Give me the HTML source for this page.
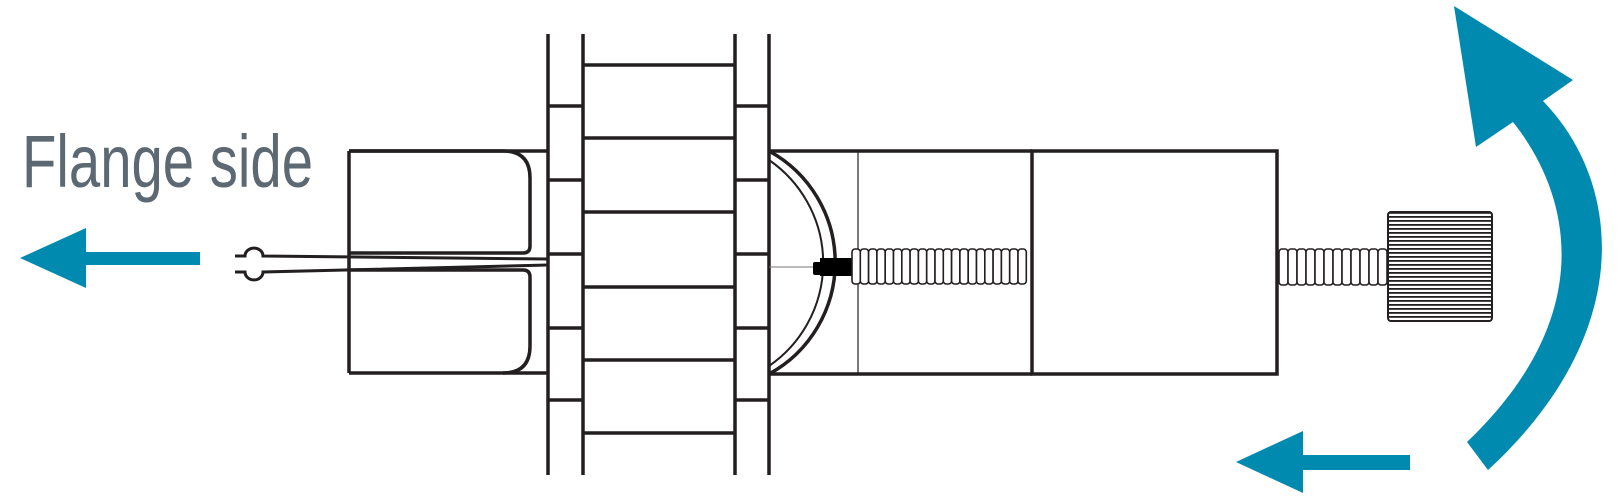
<!DOCTYPE html>
<html><head><style>html,body{margin:0;padding:0;background:#fff;}svg{display:block}</style></head>
<body>
<svg width="1618" height="500" viewBox="0 0 1618 500" xmlns="http://www.w3.org/2000/svg">
<rect width="1618" height="500" fill="#fff"/>
<text x="22" y="187" font-family="Liberation Sans Narrow, Liberation Sans, sans-serif" font-size="74" fill="#5c6872" textLength="291" lengthAdjust="spacingAndGlyphs">Flange side</text>
<polygon points="20,258 86,228 86,252 200,252 200,265 86,265 86,288" fill="#008aaf"/>
<polygon points="1236,462 1303,431 1303,455 1410,455 1410,470 1303,470 1303,493" fill="#008aaf"/>
<path d="M1543,101 C1620,180 1640,330 1488,470 L1467,442 C1595,320 1575,200 1513,122 L1476,147 L1454,6 L1573,80 Z" fill="#008aaf"/>
<g fill="none" stroke="#231f20" stroke-width="3.5">
<line x1="349" y1="151" x2="548" y2="151"/>
<line x1="349" y1="373" x2="548" y2="373"/>
<line x1="349" y1="151" x2="349" y2="373"/>
<path d="M349,151 L503,151 Q530,151 530,178 L530,246 Q530,253 523,253 L349,253"/>
<path d="M349,270 L523,270 Q530,270 530,277 L530,346 Q530,373 503,373"/>
<line x1="548" y1="34" x2="548" y2="475"/>
<line x1="583" y1="34" x2="583" y2="475"/>
<line x1="735" y1="34" x2="735" y2="475"/>
<line x1="769" y1="34" x2="769" y2="475"/>
<line x1="548" y1="106" x2="583" y2="106"/><line x1="548" y1="180" x2="583" y2="180"/><line x1="548" y1="254" x2="583" y2="254"/><line x1="548" y1="328" x2="583" y2="328"/><line x1="548" y1="400" x2="583" y2="400"/>
<line x1="735" y1="106" x2="769" y2="106"/><line x1="735" y1="180" x2="769" y2="180"/><line x1="735" y1="254" x2="769" y2="254"/><line x1="735" y1="328" x2="769" y2="328"/><line x1="735" y1="400" x2="769" y2="400"/>
<line x1="583" y1="65" x2="735" y2="65"/><line x1="583" y1="138" x2="735" y2="138"/><line x1="583" y1="212" x2="735" y2="212"/><line x1="583" y1="287" x2="735" y2="287"/><line x1="583" y1="360" x2="735" y2="360"/><line x1="583" y1="433" x2="735" y2="433"/>
<line x1="769" y1="151" x2="1032" y2="151"/>
<line x1="769" y1="374" x2="1032" y2="374"/>
<path d="M769,151 A127,127 0 0 1 769,374"/>
<rect x="1032" y="151" width="245" height="223"/>
</g>
<g fill="none" stroke="#231f20" stroke-width="2">
<path d="M769,160 A125,125 0 0 1 769,366"/>
<line x1="858" y1="151" x2="858" y2="374" stroke-width="1.2"/>
<line x1="769" y1="267" x2="815" y2="267" stroke-width="1" stroke="#777"/>
<path d="M235,256 L245,256 A8,7 0 0 1 263,256 L548,259" stroke-width="3"/>
<path d="M235,272 L245,272 A8,7 0 0 0 263,272 L548,265" stroke-width="3"/>
</g>
<rect x="813" y="262" width="9" height="13" rx="2" fill="#000"/>
<rect x="820" y="258" width="32" height="18" fill="#000"/>
<g fill="#fff" stroke="#231f20" stroke-width="1.6">
<rect x="852" y="249" width="8.3" height="35" rx="3"/><rect x="860.3" y="249" width="8.3" height="35" rx="3"/><rect x="868.6" y="249" width="8.3" height="35" rx="3"/><rect x="876.9" y="249" width="8.3" height="35" rx="3"/><rect x="885.2" y="249" width="8.3" height="35" rx="3"/><rect x="893.5" y="249" width="8.3" height="35" rx="3"/><rect x="901.8" y="249" width="8.3" height="35" rx="3"/><rect x="910.1" y="249" width="8.3" height="35" rx="3"/><rect x="918.4" y="249" width="8.3" height="35" rx="3"/><rect x="926.7" y="249" width="8.3" height="35" rx="3"/><rect x="935" y="249" width="8.3" height="35" rx="3"/><rect x="943.3" y="249" width="8.3" height="35" rx="3"/><rect x="951.6" y="249" width="8.3" height="35" rx="3"/><rect x="959.9" y="249" width="8.3" height="35" rx="3"/><rect x="968.2" y="249" width="8.3" height="35" rx="3"/><rect x="976.5" y="249" width="8.3" height="35" rx="3"/><rect x="984.8" y="249" width="8.3" height="35" rx="3"/><rect x="993.1" y="249" width="8.3" height="35" rx="3"/><rect x="1001.4" y="249" width="8.3" height="35" rx="3"/><rect x="1009.7" y="249" width="8.3" height="35" rx="3"/><rect x="1018" y="249" width="8.3" height="35" rx="3"/>
<rect x="1279" y="249" width="9" height="36" rx="3"/><rect x="1288" y="249" width="9" height="36" rx="3"/><rect x="1297" y="249" width="9" height="36" rx="3"/><rect x="1306" y="249" width="9" height="36" rx="3"/><rect x="1315" y="249" width="9" height="36" rx="3"/><rect x="1324" y="249" width="9" height="36" rx="3"/><rect x="1333" y="249" width="9" height="36" rx="3"/><rect x="1342" y="249" width="9" height="36" rx="3"/><rect x="1351" y="249" width="9" height="36" rx="3"/><rect x="1360" y="249" width="9" height="36" rx="3"/><rect x="1369" y="249" width="9" height="36" rx="3"/><rect x="1378" y="249" width="9" height="36" rx="3"/>
</g>
<defs><pattern id="kn" x="0" y="212" width="4" height="4" patternUnits="userSpaceOnUse"><rect width="4" height="4" fill="#fff"/><rect width="4" height="1.8" fill="#231f20"/></pattern></defs>
<rect x="1388" y="212" width="104" height="109" rx="3" fill="url(#kn)" stroke="#231f20" stroke-width="2"/>
</svg>
</body></html>
